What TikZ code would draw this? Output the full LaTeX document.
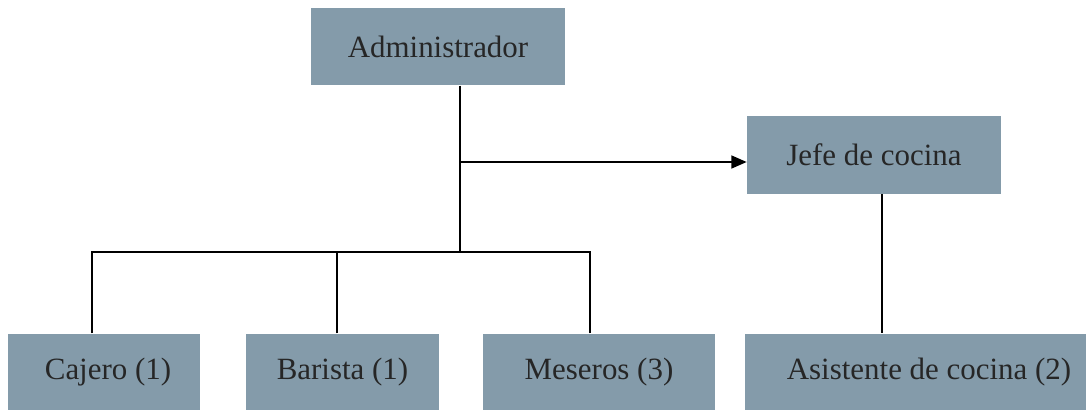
\documentclass[tikz,border=0pt]{standalone}
\usepackage{fontspec}
\setmainfont{Liberation Serif}
\usetikzlibrary{arrows.meta,positioning,calc}
\definecolor{boxfill}{HTML}{849BAA}
\definecolor{boxtext}{HTML}{262626}

\begin{document}
\begin{tikzpicture}[
    x=0.025cm, y=-0.025cm,
    >={Triangle[length=0.38cm,width=0.32cm]},
    role/.style={rectangle, fill=boxfill, text=boxtext, inner sep=0pt, minimum height=1.94cm, font=\fontsize{22}{26}\selectfont},
    link/.style={line width=1.3pt},
    message/.style={->, line width=1.3pt}
]
\useasboundingbox (0,0) rectangle (1086,409);

% Boxes
\node[role, minimum width=6.35cm] (admin) at (438,46.5) {Administrador};
\node[role, minimum width=6.35cm] (jefe) at (874,155) {Jefe de cocina};
\node[role, minimum width=4.8cm] (cajero) at (104,372.5) {\hspace{0.2cm}Cajero (1)};
\node[role, minimum width=4.83cm] (barista) at (342.5,372.5) {Barista (1)};
\node[role, minimum width=5.8cm] (meseros) at (599,372.5) {Meseros (3)};
\node[role, minimum width=9.2cm] (asis) at (929,372.5) {Asistente de cocina (2)};

% Junctions
\coordinate (split) at (460,252);
\coordinate (tee) at (460,162);

% Lines
\draw[link] (admin.south -| split) -- (split);
\draw[message] (tee) -- (tee -| jefe.west);
\draw[link] ([xshift=-0.3cm]cajero.north) |- (split);
\draw[link] ([xshift=-0.14cm]barista.north) -- ([xshift=-0.14cm]barista.north |- split);
\draw[link] ([xshift=-0.22cm]meseros.north) |- (split);
\draw[link] ([xshift=0.2cm]jefe.south) -- ([xshift=0.2cm]jefe.south |- asis.north);

\end{tikzpicture}
\end{document}
